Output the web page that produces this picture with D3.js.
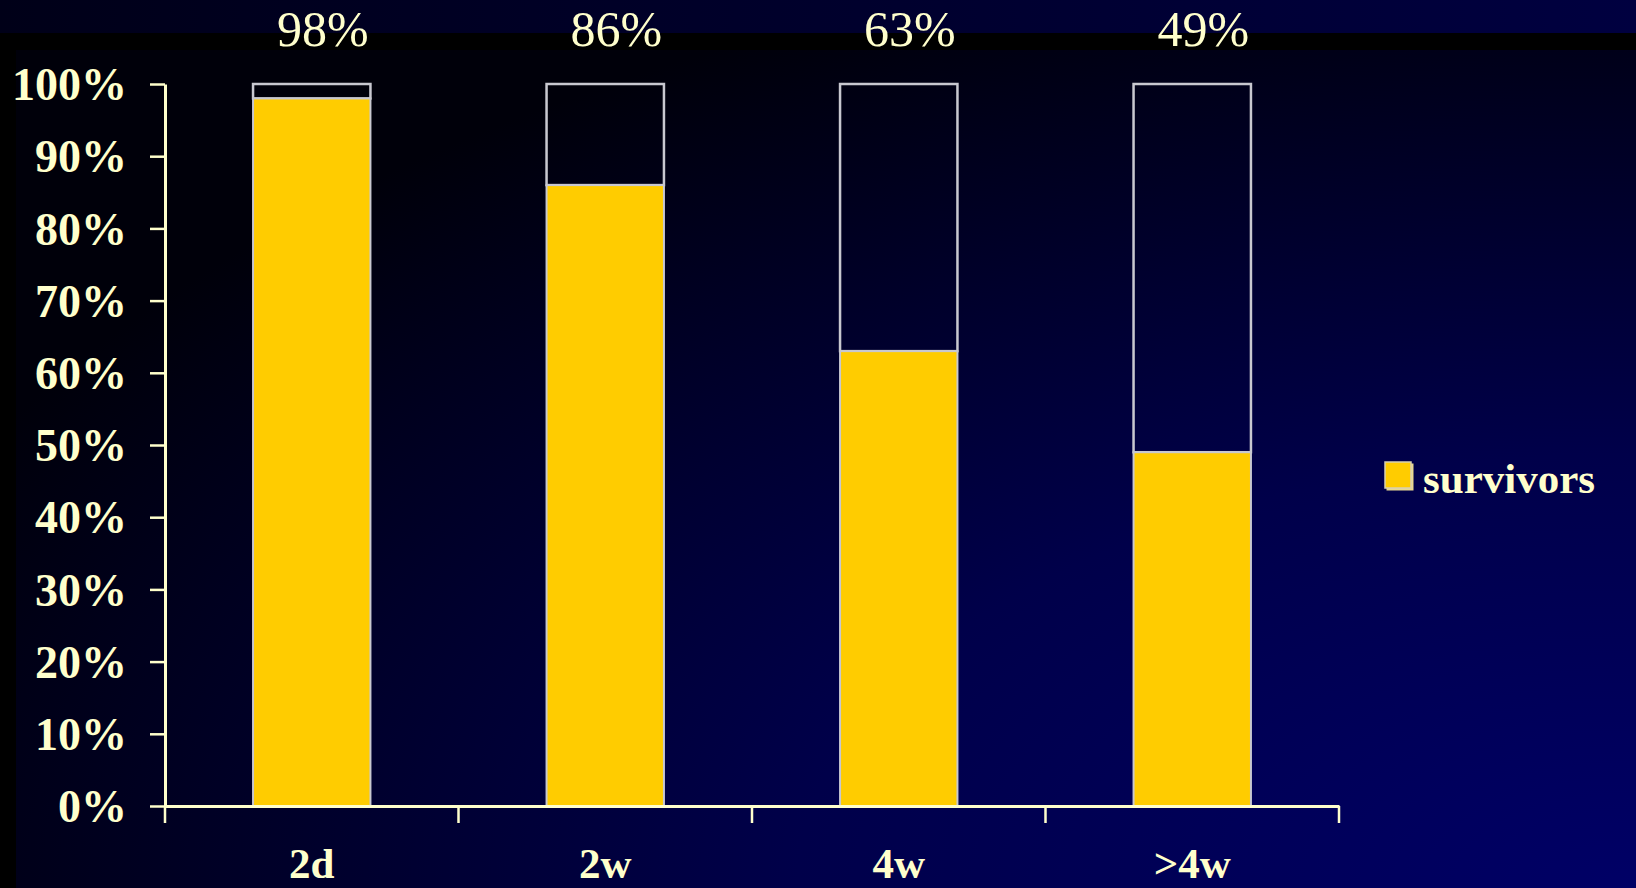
<!DOCTYPE html>
<html>
<head>
<meta charset="utf-8">
<script src="https://cdn.jsdelivr.net/npm/d3@7"></script>
<style>
  html, body { margin: 0; padding: 0; background: #000; }
  svg { display: block; }
</style>
</head>
<body>
<svg id="chart" width="1636" height="888"></svg>
<script>
// Survival share per time point
const categories = ["2d", "2w", "4w", ">4w"];
const survivors = [98, 86, 63, 49];
const yTicks = [0, 10, 20, 30, 40, 50, 60, 70, 80, 90, 100];
const valueLabels = ["98%", "86%", "63%", "49%"];
const legendLabel = "survivors";

const W = 1636, H = 888;
const cream = "#ffffcc";
const gold = "#ffcc00";
const edge = "#c8c8d0";

const svg = d3.select("#chart");
const defs = svg.append("defs");

// slide background: navy glow from lower right
const rg = defs.append("radialGradient")
  .attr("id", "bgGlow")
  .attr("cx", "100%").attr("cy", "100%").attr("r", "115%")
  .attr("fx", "100%").attr("fy", "100%");
rg.append("stop").attr("offset", "0%").attr("stop-color", "#000066");
rg.append("stop").attr("offset", "45%").attr("stop-color", "#00004a");
rg.append("stop").attr("offset", "100%").attr("stop-color", "#00000a");

const tg = defs.append("linearGradient")
  .attr("id", "topBand").attr("x1", "0%").attr("x2", "100%").attr("y1", "0%").attr("y2", "0%");
tg.append("stop").attr("offset", "0%").attr("stop-color", "#000018");
tg.append("stop").attr("offset", "100%").attr("stop-color", "#000040");

svg.append("rect").attr("width", W).attr("height", H).attr("fill", "#000");
svg.append("rect").attr("x", 16).attr("y", 50).attr("width", W - 16).attr("height", H - 50)
  .attr("fill", "url(#bgGlow)");
svg.append("rect").attr("x", 0).attr("y", 0).attr("width", W).attr("height", 33)
  .attr("fill", "url(#topBand)");

// scales
const x = d3.scaleBand().domain(categories).range([165, 1339])
  .paddingInner(0.6).paddingOuter(0.3);
const y = d3.scaleLinear().domain([0, 100]).range([806, 84]);

// bars: empty remainder box above, filled survivors segment below
const bars = svg.append("g");
bars.selectAll("rect.rest").data(survivors).join("rect")
  .attr("class", "rest")
  .attr("x", (d, i) => x(categories[i]))
  .attr("y", y(100))
  .attr("width", x.bandwidth())
  .attr("height", d => y(d) - y(100))
  .attr("fill", "none")
  .attr("stroke", edge)
  .attr("stroke-width", 2.5);
bars.selectAll("rect.surv").data(survivors).join("rect")
  .attr("class", "surv")
  .attr("x", (d, i) => x(categories[i]))
  .attr("y", d => y(d))
  .attr("width", x.bandwidth())
  .attr("height", d => y(0) - y(d))
  .attr("fill", gold)
  .attr("stroke", edge)
  .attr("stroke-width", 2);

// y axis
const yAxis = svg.append("g")
  .attr("transform", `translate(${x.range()[0]},0)`)
  .call(d3.axisLeft(y).tickValues(yTicks).tickFormat(d => d + "%")
    .tickSize(15).tickSizeOuter(0).tickPadding(23));
yAxis.select(".domain").attr("stroke", cream).attr("stroke-width", 3);
yAxis.selectAll(".tick line").attr("stroke", cream).attr("stroke-width", 2.5);
yAxis.selectAll(".tick text")
  .attr("fill", cream)
  .attr("font-family", "'Liberation Serif', 'Times New Roman', serif")
  .attr("font-weight", "bold")
  .attr("font-size", 46)
  .attr("dy", "0.34em");

// x axis
const xAxis = svg.append("g")
  .attr("transform", `translate(0,${y(0)})`)
  .call(d3.axisBottom(x).tickSize(0).tickSizeOuter(0));
xAxis.select(".domain").attr("stroke", cream).attr("stroke-width", 3);
xAxis.selectAll(".tick text")
  .attr("fill", cream)
  .attr("font-family", "'Liberation Serif', 'Times New Roman', serif")
  .attr("font-weight", "bold")
  .attr("font-size", 43)
  .attr("y", 72)
  .attr("dy", 0);

// category boundary ticks
const bounds = d3.range(categories.length + 1).map(i => x.range()[0] + i * x.step());
xAxis.selectAll("line.bound").data(bounds).join("line")
  .attr("class", "bound")
  .attr("x1", d => d).attr("x2", d => d)
  .attr("y1", 0).attr("y2", 17)
  .attr("stroke", cream).attr("stroke-width", 2.5);

// value labels above each bar
svg.append("g").selectAll("text").data(valueLabels).join("text")
  .attr("x", (d, i) => x(categories[i]) + x.bandwidth() / 2 + 11)
  .attr("y", 46)
  .attr("text-anchor", "middle")
  .attr("fill", cream)
  .attr("font-family", "'Liberation Serif', 'Times New Roman', serif")
  .attr("font-size", 50)
  .text(d => d);

// legend
const lg = svg.append("g").attr("transform", "translate(1385,462)");
lg.append("rect").attr("x", 1.5).attr("y", 1.5).attr("width", 27).attr("height", 27)
  .attr("fill", "#e8d890");
lg.append("rect").attr("width", 26).attr("height", 26)
  .attr("fill", gold).attr("stroke", "#d8d0b0").attr("stroke-width", 1.5);
lg.append("text")
  .attr("x", 38).attr("y", 31)
  .attr("fill", cream)
  .attr("font-family", "'Liberation Serif', 'Times New Roman', serif")
  .attr("font-weight", "bold")
  .attr("font-size", 43)
  .text(legendLabel);
</script>
</body>
</html>
